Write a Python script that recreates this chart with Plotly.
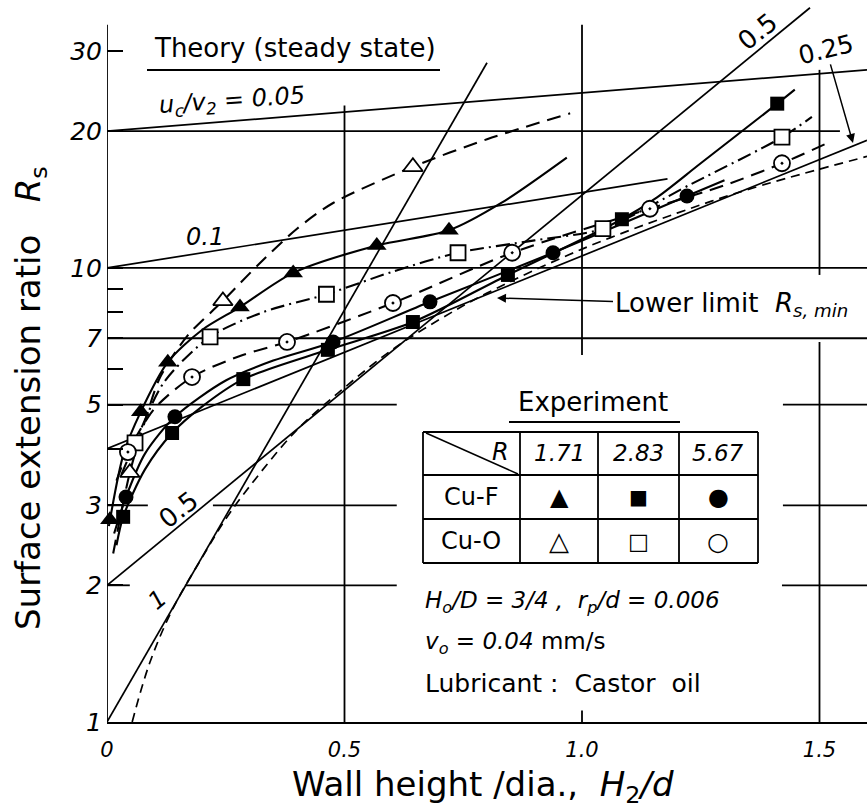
import math
import plotly.graph_objects as go

# ---------------- data ----------------
# Experimental points  (x = H2/d, y = Rs)
cuf_171_x = [0.006, 0.071, 0.128, 0.28, 0.392, 0.568, 0.72]
cuf_171_y = [2.79, 4.82, 6.2, 8.2, 9.75, 11.2, 12.1]
cuo_171_x = [0.048, 0.244, 0.644]
cuo_171_y = [3.54, 8.46, 16.7]
cuf_283_x = [0.034, 0.137, 0.287, 0.465, 0.644, 0.844, 1.084, 1.411]
cuf_283_y = [2.83, 4.33, 5.69, 6.6, 7.6, 9.65, 12.8, 23.0]
cuo_283_x = [0.059, 0.217, 0.462, 0.739, 1.044, 1.421]
cuo_283_y = [4.12, 7.05, 8.75, 10.8, 12.2, 19.4]
cuf_567_x = [0.040, 0.143, 0.476, 0.68, 0.939, 1.221]
cuf_567_y = [3.13, 4.70, 6.87, 8.42, 10.8, 14.4]
cuo_567_x = [0.044, 0.179, 0.379, 0.602, 0.853, 1.143, 1.421]
cuo_567_y = [3.93, 5.75, 6.87, 8.37, 10.8, 13.5, 17.0]

# Experimental trend curves
fit_cuf_171_x = [0.004, 0.035, 0.071, 0.128, 0.20, 0.28, 0.392, 0.568, 0.72, 0.83, 0.968]
fit_cuf_171_y = [2.7, 3.9, 4.82, 6.2, 7.3, 8.2, 9.75, 11.2, 12.1, 13.9, 17.5]
fit_cuo_171_x = [0.013, 0.048, 0.08, 0.112, 0.17, 0.244, 0.32, 0.40, 0.476, 0.644, 0.80, 0.975]
fit_cuo_171_y = [2.35, 3.54, 4.6, 5.75, 7.1, 8.46, 10.2, 12.2, 13.9, 16.7, 19.2, 21.9]
fit_cuf_283_x = [0.02, 0.034, 0.08, 0.137, 0.2, 0.287, 0.465, 0.644, 0.844, 1.084, 1.158, 1.25, 1.411, 1.448]
fit_cuf_283_y = [2.45, 2.83, 3.6, 4.33, 4.95, 5.69, 6.6, 7.6, 9.65, 12.8, 14.3, 17.0, 23.0, 24.7]
fit_cuo_283_x = [0.03, 0.059, 0.12, 0.217, 0.33, 0.462, 0.6, 0.739, 0.9, 1.044, 1.23, 1.421, 1.484]
fit_cuo_283_y = [3.5, 4.12, 5.6, 7.05, 8.0, 8.75, 9.8, 10.8, 11.5, 12.2, 15.3, 19.4, 21.5]
fit_cuf_567_x = [0.015, 0.040, 0.08, 0.143, 0.25, 0.35, 0.476, 0.68, 0.939, 1.221, 1.30]
fit_cuf_567_y = [2.6, 3.13, 3.9, 4.70, 5.65, 6.25, 6.87, 8.42, 10.8, 14.4, 15.6]
fit_cuo_567_x = [0.02, 0.044, 0.1, 0.179, 0.28, 0.379, 0.602, 0.853, 1.143, 1.3, 1.421, 1.52]
fit_cuo_567_y = [3.4, 3.93, 4.9, 5.75, 6.4, 6.87, 8.37, 10.8, 13.5, 15.2, 17.0, 18.9]

# Theory (steady state) lines, u_c/v_2 = ...
theory_u = ["0.05", "0.1", "0.25", "0.5", "1"]
theory_x = [[0, 1.6], [0, 1.18], [0, 1.6], [0, 1.48], [0, 0.80]]
theory_y = [[20, 27.3], [10, 15.7], [4, 19.1], [2, 37.4], [1, 28.3]]

# Lower limit Rs,min
lower_x = [0.053, 0.09, 0.139, 0.2, 0.25, 0.3, 0.4, 0.5, 0.6, 0.7, 0.8, 1.0, 1.2, 1.36, 1.6]
lower_y = [1.0, 1.35, 1.78, 2.3, 2.8, 3.3, 4.4, 5.45, 6.6, 7.7, 8.8, 11.0, 13.2, 15.0, 17.6]

# Axis ticks
x_ticks = [0, 0.5, 1.0, 1.5]
x_ticktext = ["0", "0.5", "1.0", "1.5"]
y_ticks = [1, 2, 3, 5, 7, 10, 20, 30]
y_ticktext = ["1", "2", "3", "5", "7", "10", "20", "30"]
y_minor_ticks = [4, 6, 8, 9]

# Table
table_R = ["1.71", "2.83", "5.67"]
table_rows = ["Cu-F", "Cu-O"]

# ---------------- layout helpers ----------------
FONT = "DejaVu Sans"
W, H = 867, 811
L, B = 107, 89
PW, PH = W - L, H - B


def P(px, py):
    return (px - L) / PW, (PH - py) / PH


fig = go.Figure()

# partial grid lines (drawn as line traces in data space)
grid_v = [(0.5, 1, 22.8), (1.0, 6.43, 34.3), (1.0, 1, 1.06), (1.5, 9.65, 27.3), (1.5, 1, 6.87), (0.0, 1, 34.3)]
grid_h = [(20, 0, 1.543), (10, 0, 1.6), (7, 0, 1.6), (5, 0, 0.61), (5, 1.423, 1.6),
          (3, 0, 0.086), (3, 0.223, 0.61), (3, 1.423, 1.6),
          (2, 0, 0.048), (2, 0.164, 0.61), (2, 1.421, 1.6)]
gx, gy = [], []
for xv, y0, y1 in grid_v:
    gx += [xv, xv, None]
    gy += [y0, y1, None]
for yv, x0, x1 in grid_h:
    gx += [x0, x1, None]
    gy += [yv, yv, None]
fig.add_trace(go.Scatter(x=gx, y=gy, mode="lines", line=dict(color="black", width=1.8),
                         hoverinfo="skip", cliponaxis=False))

# theory lines
for tx, ty in zip(theory_x, theory_y):
    fig.add_trace(go.Scatter(x=tx, y=ty, mode="lines", line=dict(color="black", width=1.7),
                             hoverinfo="skip"))

# lower limit
fig.add_trace(go.Scatter(x=lower_x, y=lower_y, mode="lines",
                         line=dict(color="black", width=1.7, dash="9px,6px", shape="spline"),
                         hoverinfo="skip"))


def add_curve(x, y, dash):
    fig.add_trace(go.Scatter(x=x, y=y, mode="lines",
                             line=dict(color="black", width=2.1, dash=dash, shape="spline", smoothing=0.8),
                             hoverinfo="skip"))


add_curve(fit_cuf_171_x, fit_cuf_171_y, "solid")
add_curve(fit_cuo_171_x, fit_cuo_171_y, "14px,8px")
add_curve(fit_cuf_283_x, fit_cuf_283_y, "solid")
add_curve(fit_cuo_283_x, fit_cuo_283_y, "14px,5px,2px,5px")
add_curve(fit_cuf_567_x, fit_cuf_567_y, "solid")
add_curve(fit_cuo_567_x, fit_cuo_567_y, "14px,8px")


def add_markers(x, y, symbol, size, filled):
    fig.add_trace(go.Scatter(
        x=x, y=y, mode="markers", cliponaxis=False, hoverinfo="skip",
        marker=dict(symbol=symbol, size=size, color="black" if filled else "white",
                    line=dict(color="black", width=0 if filled else 1.8))))


add_markers(cuf_171_x, cuf_171_y, "triangle-up", 17, True)
add_markers(cuo_171_x, cuo_171_y, "triangle-up", 17, False)
add_markers(cuf_283_x, cuf_283_y, "square", 14, True)
add_markers(cuo_283_x, cuo_283_y, "square", 15, False)
add_markers(cuf_567_x, cuf_567_y, "circle", 15, True)
add_markers(cuo_567_x, cuo_567_y, "circle-dot", 16, False)

# ---------------- annotations ----------------
ann = []


def txt(px, py, text, size=26, angle=0, xanchor="center", italic=False, **kw):
    x, y = P(px, py)
    d = dict(x=x, y=y, xref="paper", yref="paper", text=text, showarrow=False,
             textangle=angle, xanchor=xanchor, yanchor="middle",
             font=dict(family=FONT, size=size, color="black",
                       style="italic" if italic else "normal"))
    d.update(kw)
    ann.append(d)


# axis titles
txt(30, 398, "Surface extension ratio\u00a0\u00a0\u00a0<i>R</i><sub>s</sub>", size=34, angle=-90)
txt(483, 786, "Wall height /dia.,\u00a0\u00a0<i>H</i><sub>2</sub><i>/d</i>", size=34)

# theory labels
txt(295, 48, "Theory (steady state)", size=26)
txt(232, 102, "u<sub>c</sub>/v<sub>2</sub> = 0.05", size=24, angle=-4, italic=True)
txt(205, 237, "0.1", size=24, italic=True)
txt(757, 32, "0.5", size=26, angle=-39)
txt(178, 510, "0.5", size=26, angle=-38)
txt(157, 600, "1", size=24, angle=-40, italic=True)

# 0.25 with arrow
hx, hy = P(853, 143)
ann.append(dict(x=hx, y=hy, xref="paper", yref="paper", text="0.25", showarrow=True,
                ax=826 - 853, ay=49 - 143, arrowhead=2, arrowsize=1.2, arrowwidth=1.5,
                arrowcolor="black", textangle=-14,
                font=dict(family=FONT, size=25, color="black")))

# Lower limit with arrow
hx, hy = P(497, 298)
ann.append(dict(x=hx, y=hy, xref="paper", yref="paper",
                text="Lower limit\u00a0\u00a0<i>R</i><sub><i>s, min</i></sub>", showarrow=True,
                ax=731 - 497, ay=305 - 298, arrowhead=2, arrowsize=1.2, arrowwidth=1.5,
                arrowcolor="black", standoff=0,
                font=dict(family=FONT, size=26, color="black")))

# Experiment table
txt(593, 402, "Experiment", size=26)
col_c = [471, 559, 638, 718]
row_c = [453, 497, 541]
txt(500, 452, "R", size=24, italic=True)
for c, r in zip(col_c[1:], table_R):
    txt(c, row_c[0], r, size=23, italic=True)
for r, name in zip(row_c[1:], table_rows):
    txt(col_c[0], r, name, size=24)
glyphs = [["\u25B2", "\u25A0", "\u25CF"], ["\u25B3", "\u25A1", "\u25CB"]]
gsize = [[24, 20, 24], [26, 22, 25]]
for i, r in enumerate(row_c[1:]):
    for j, c in enumerate(col_c[1:]):
        txt(c, r, glyphs[i][j], size=gsize[i][j])

# conditions
txt(423, 602, "<i>H</i><sub><i>o</i></sub><i>/D = 3/4 ,\u00a0\u00a0r</i><sub><i>p</i></sub><i>/d = 0.006</i>",
    size=23, xanchor="left")
txt(423, 643, "<i>v</i><sub><i>o</i></sub><i> = 0.04</i> mm/s", size=23, xanchor="left")
txt(423, 683, "Lubricant\u00a0:\u00a0\u00a0Castor\u00a0\u00a0oil", size=25, xanchor="left")

# ---------------- shapes (table, underlines) ----------------
shapes = []


def seg(px0, py0, px1, py1, w=1.8):
    x0, y0 = P(px0, py0)
    x1, y1 = P(px1, py1)
    shapes.append(dict(type="line", xref="paper", yref="paper", x0=x0, y0=y0, x1=x1, y1=y1,
                       line=dict(color="black", width=w)))


seg(147, 70, 440, 70)          # Theory underline
seg(509, 422, 680, 422)        # Experiment underline
tx0, tx1, ty0, ty1 = 423, 758, 432, 563
seg(tx0, ty0, tx1, ty0)
seg(tx0, ty1, tx1, ty1)
seg(tx0, ty0, tx0, ty1)
seg(tx1, ty0, tx1, ty1)
for cx in [520, 598, 679]:
    seg(cx, ty0, cx, ty1)
for ry in [475, 519]:
    seg(tx0, ry, tx1, ry)
seg(426, 433, 518, 474, 1.5)  # diagonal header

fig.update_layout(
    width=W, height=H,
    margin=dict(l=L, r=0, t=0, b=B),
    paper_bgcolor="white", plot_bgcolor="white",
    showlegend=False,
    annotations=ann, shapes=shapes,
    xaxis=dict(range=[0, 1.6], showgrid=False, zeroline=False, showline=True,
               linecolor="black", linewidth=2, ticks="",
               tickvals=x_ticks, ticktext=x_ticktext, ticklabelstandoff=8,
               tickfont=dict(family=FONT, size=21, color="black", style="italic")),
    yaxis=dict(type="log", range=[0, 1.59], showgrid=False, zeroline=False, showline=False,
               ticks="inside", ticklen=16, tickwidth=2, tickcolor="black",
               tickvals=y_ticks, ticktext=y_ticktext, ticklabelstandoff=4,
               tickfont=dict(family=FONT, size=25, color="black", style="italic"),
               minor=dict(tickvals=y_minor_ticks, ticks="inside", ticklen=16, tickwidth=2,
                          tickcolor="black", showgrid=False)),
)

fig.write_html("out.html")
